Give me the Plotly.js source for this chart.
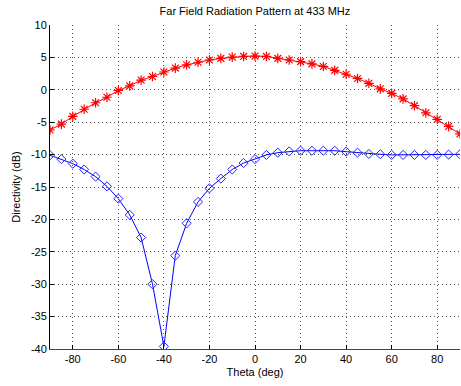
<!DOCTYPE html>
<html>
<head>
<meta charset="utf-8">
<script src="https://cdn.plot.ly/plotly-3.0.1.min.js"></script>
<style>html,body{margin:0;padding:0;background:#fff;}#chart{width:461px;height:386px;}</style>
</head>
<body>
<div id="chart"></div>
<script>
const theta = [-90,-85,-80,-75,-70,-65,-60,-55,-50,-45,-40,-35,-30,-25,-20,-15,-10,-5,0,5,10,15,20,25,30,35,40,45,50,55,60,65,70,75,80,85,90];
const redDirectivity = [-6.2,-5.3,-4.1,-3.0,-2.0,-1.15,-0.1,0.6,1.5,2.05,2.75,3.35,3.85,4.25,4.6,4.85,5.05,5.15,5.2,5.15,4.85,4.6,4.35,4.0,3.6,3.0,2.4,1.75,1.0,0.15,-0.55,-1.4,-2.45,-3.55,-4.55,-5.65,-6.8];
const blueDirectivity = [-10.1,-10.7,-11.4,-12.3,-13.4,-14.9,-16.8,-19.3,-22.8,-30.0,-39.6,-25.6,-20.6,-17.3,-15.2,-13.7,-12.3,-11.3,-10.7,-10.05,-9.7,-9.5,-9.4,-9.4,-9.4,-9.4,-9.55,-9.7,-9.9,-9.95,-10.05,-10.05,-10.05,-10.05,-10.05,-10.0,-9.95];
const xTicks = [-80,-60,-40,-20,0,20,40,60,80];
const yTicks = [-40,-35,-30,-25,-20,-15,-10,-5,0,5,10];

const traces = [
  {x: theta, y: redDirectivity, type: 'scatter', mode: 'lines+markers',
   line: {color: '#ff0000', width: 1},
   marker: {symbol: 'asterisk-open', size: 8, color: '#ff0000', line: {color: '#ff0000', width: 1.2}},
   cliponaxis: true},
  {x: theta, y: blueDirectivity, type: 'scatter', mode: 'lines+markers',
   line: {color: '#0000ff', width: 1},
   marker: {symbol: 'diamond-open', size: 7, color: '#2222ff', line: {color: '#2222ff', width: 1}},
   cliponaxis: true}
];

const font = {family: 'Liberation Sans, Arial, sans-serif', size: 11, color: '#000'};
const layout = {
  width: 461, height: 386,
  margin: {l: 50, r: 1, t: 25, b: 37},
  paper_bgcolor: '#fff', plot_bgcolor: '#fff',
  showlegend: false,
  font: font,
  title: {text: 'Far Field Radiation Pattern at 433 MHz', font: {family: 'Liberation Sans, Arial, sans-serif', size: 11, color: '#000'}, x: 0.553, xanchor: 'center', yref: 'container', y: 0.97, yanchor: 'middle'},
  xaxis: {
    range: [-90, 90], tickvals: xTicks, ticktext: xTicks.map(String),
    showgrid: true, gridcolor: '#555', griddash: '1px,3px', gridwidth: 1,
    zeroline: false, showline: true, linecolor: '#444', linewidth: 1,
    ticks: 'inside', ticklen: 4, tickcolor: '#000',
    tickfont: font,
    title: {text: 'Theta (deg)', font: font, standoff: 4}
  },
  yaxis: {
    range: [-40, 10], tickvals: yTicks, ticktext: yTicks.map(String),
    showgrid: true, gridcolor: '#555', griddash: '1px,3px', gridwidth: 1,
    zeroline: false, showline: true, linecolor: '#000', linewidth: 1,
    ticks: 'inside', ticklen: 4, tickcolor: '#000',
    tickfont: font,
    title: {text: 'Directivity (dB)', font: font, standoff: 8}
  }
};

Plotly.newPlot('chart', traces, layout, {staticPlot: true, displayModeBar: false});
</script>
</body>
</html>
